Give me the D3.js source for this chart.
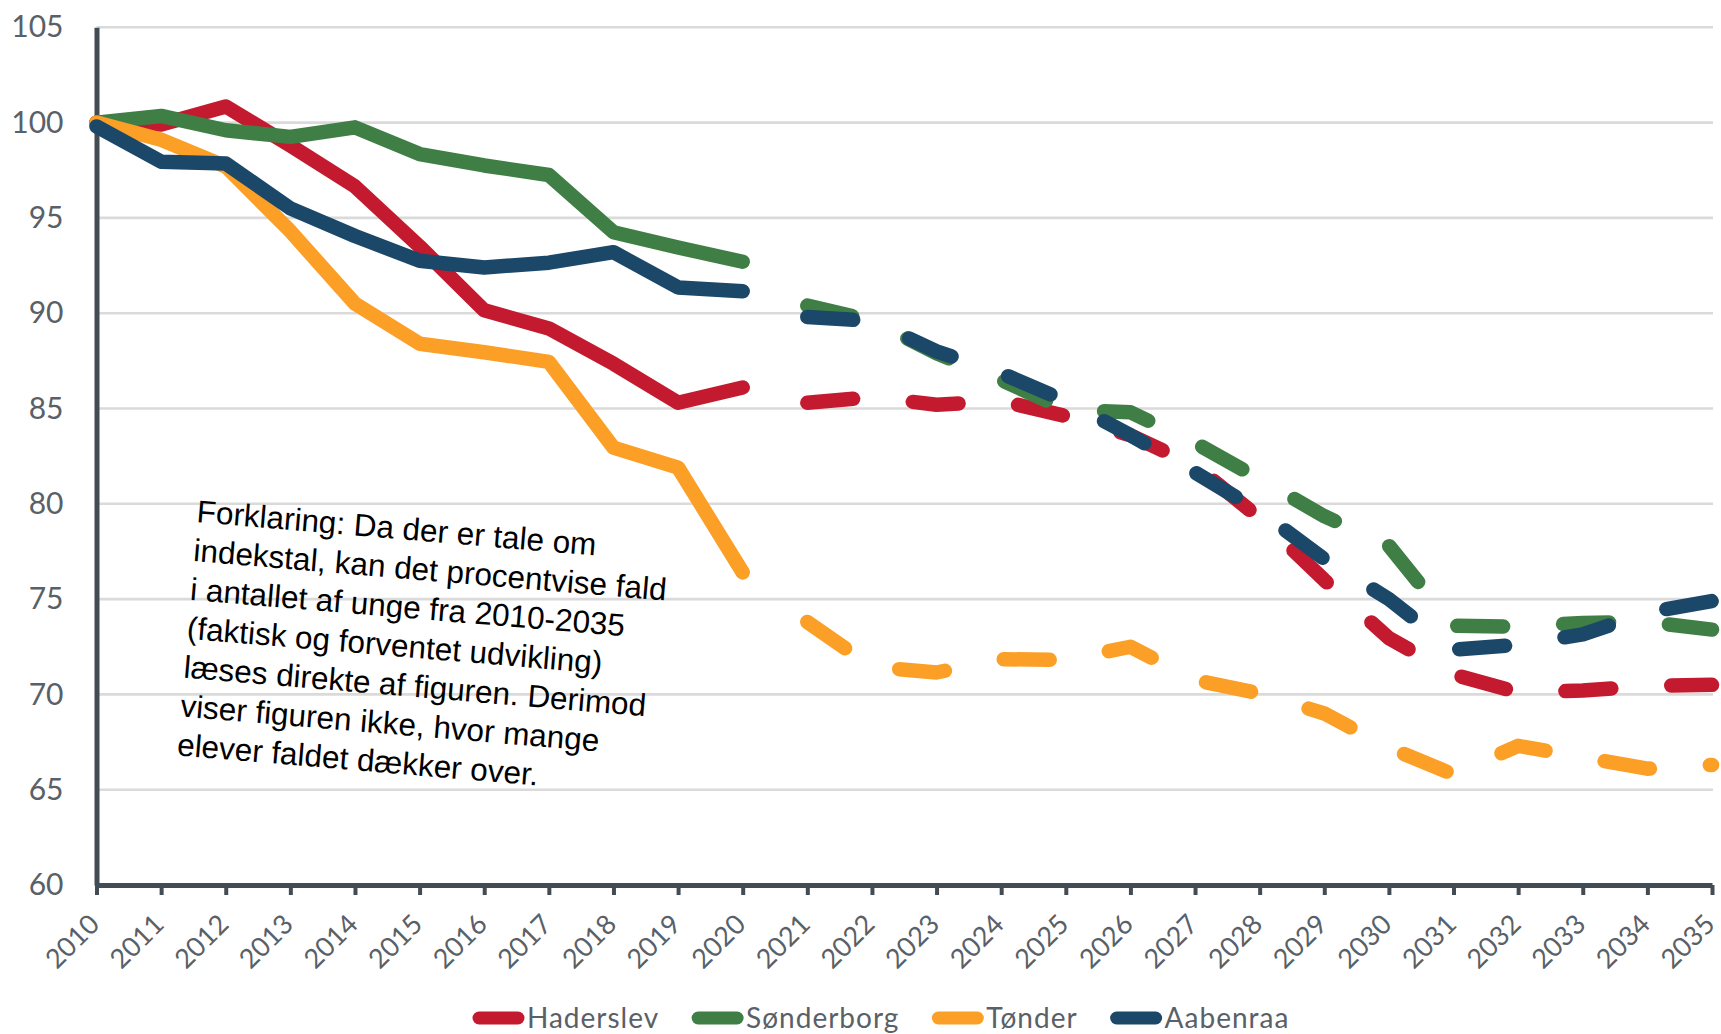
<!DOCTYPE html>
<html lang="da">
<head>
<meta charset="utf-8">
<title>Unge 2010-2035, indeks</title>
<script src="https://cdn.jsdelivr.net/npm/d3@7"></script>
<style>
  html, body { margin: 0; padding: 0; background: #ffffff; }
  svg { display: block; }
</style>
</head>
<body>
<svg id="chart" width="1721" height="1034"></svg>
<script>
// Index (2010 = 100): actual development 2010-2020, forecast 2021-2035
const actualYears   = [2010, 2011, 2012, 2013, 2014, 2015, 2016, 2017, 2018, 2019, 2020];
const forecastYears = [2021, 2022, 2023, 2024, 2025, 2026, 2027, 2028, 2029, 2030, 2031, 2032, 2033, 2034, 2035];
const tickYears     = [2010, 2011, 2012, 2013, 2014, 2015, 2016, 2017, 2018, 2019, 2020, 2021, 2022,
                       2023, 2024, 2025, 2026, 2027, 2028, 2029, 2030, 2031, 2032, 2033, 2034, 2035];
const yTicks = [60, 65, 70, 75, 80, 85, 90, 95, 100, 105];

const seriesNames = ["Haderslev", "Sønderborg", "Tønder", "Aabenraa"];

const haderslevActual   = [100, 99.9, 100.85, 98.8, 96.65, 93.5, 90.15, 89.2, 87.35, 85.3, 86.1];
const sonderborgActual  = [100, 100.35, 99.6, 99.25, 99.75, 98.35, 97.75, 97.25, 94.25, 93.45, 92.7];
const tonderActual      = [100, 99.1, 97.7, 94.3, 90.5, 88.4, 87.95, 87.45, 82.95, 81.9, 76.4];
const aabenraaActual    = [99.8, 97.95, 97.85, 95.5, 94.05, 92.75, 92.4, 92.65, 93.2, 91.35, 91.15];

const haderslevForecast  = [85.3, 85.6, 85.2, 85.4, 84.6, 83.6, 82.0, 79.25, 76.0, 72.95, 71.05, 70.1, 70.2, 70.45, 70.5];
const sonderborgForecast = [90.4, 89.6, 87.9, 86.5, 84.95, 84.8, 83.2, 81.3, 79.35, 77.8, 73.6, 73.55, 73.75, 73.8, 73.4];
const tonderForecast     = [73.8, 71.45, 71.15, 71.85, 71.8, 72.5, 70.75, 70.05, 69.0, 67.2, 65.8, 67.3, 66.7, 66.1, 66.3];
const aabenraaForecast   = [89.8, 89.6, 88.0, 86.85, 85.4, 83.6, 81.65, 79.6, 77.1, 75.0, 72.35, 72.6, 73.15, 74.3, 74.9];

const noteLines = [
  "Forklaring: Da der er tale om",
  "indekstal, kan det procentvise fald",
  "i antallet af unge fra 2010-2035",
  "(faktisk og forventet udvikling)",
  "læses direkte af figuren. Derimod",
  "viser figuren ikke, hvor mange",
  "elever faldet dækker over."
];

// Styling
const colors = ["#C41A2F", "#3F7F45", "#FB9F26", "#1B4769"];
const axisColor = "#434B53";
const labelColor = "#596067";
const gridColor = "#DADADA";
const labelFont = "Lato, 'Open Sans', sans-serif";

const actualSeries   = [haderslevActual, sonderborgActual, tonderActual, aabenraaActual];
const forecastSeries = [haderslevForecast, sonderborgForecast, tonderForecast, aabenraaForecast];

const svg = d3.select("#chart");

const x = d3.scaleLinear().domain([2010, 2035]).range([96.5, 1712]);
const y = d3.scaleLinear().domain([60, 105]).range([885, 27.3]);

// Horizontal gridlines
svg.append("g")
  .selectAll("line")
  .data(yTicks.filter(v => v > 60))
  .join("line")
  .attr("x1", x(2010)).attr("x2", x(2035) + 1)
  .attr("y1", d => y(d)).attr("y2", d => y(d))
  .attr("stroke", gridColor)
  .attr("stroke-width", 2.6);

// Y axis
const yAxis = svg.append("g")
  .attr("transform", `translate(${x(2010)},0)`)
  .call(d3.axisLeft(y).tickValues(yTicks).tickSize(0).tickSizeOuter(0).tickPadding(33));
yAxis.select(".domain").attr("stroke", axisColor).attr("stroke-width", 5);
yAxis.selectAll(".tick text")
  .attr("fill", labelColor)
  .style("font-family", labelFont)
  .style("font-weight", 400)
  .style("font-size", "30px");

// X axis
const xAxis = svg.append("g")
  .attr("transform", `translate(0,${y(60)})`)
  .call(d3.axisBottom(x).tickValues(tickYears).tickFormat(d3.format("d")).tickSize(10).tickSizeOuter(0));
xAxis.select(".domain").attr("stroke", axisColor).attr("stroke-width", 5);
xAxis.selectAll(".tick line").attr("stroke", axisColor).attr("stroke-width", 4);
xAxis.selectAll(".tick text")
  .attr("x", 0).attr("y", 0).attr("dy", 0)
  .attr("text-anchor", "end")
  .attr("transform", "translate(4,41) rotate(-45)")
  .attr("fill", labelColor)
  .style("font-family", labelFont)
  .style("font-weight", 400)
  .style("font-size", "27px");

// Series lines
const line = d3.line()
  .x(d => x(d.year))
  .y(d => y(d.value));

const linesG = svg.append("g");
seriesNames.forEach((name, i) => {
  const actual = actualYears.map((yr, k) => ({ year: yr, value: actualSeries[i][k] }));
  const forecast = forecastYears.map((yr, k) => ({ year: yr, value: forecastSeries[i][k] }));
  const g = linesG.append("g").attr("class", "series").attr("data-name", name);
  g.append("path")
    .datum(actual)
    .attr("d", line)
    .attr("fill", "none")
    .attr("stroke", colors[i])
    .attr("stroke-width", 14.5)
    .attr("stroke-linecap", "round")
    .attr("stroke-linejoin", "round");
  g.append("path")
    .datum(forecast)
    .attr("d", line)
    .attr("fill", "none")
    .attr("stroke", colors[i])
    .attr("stroke-width", 14.5)
    .attr("stroke-dasharray", "46,60")
    .attr("stroke-linecap", "round")
    .attr("stroke-linejoin", "round");
});

// Explanatory note
const note = svg.append("text")
  .attr("transform", "translate(196,522) rotate(4.8)")
  .style("font-family", "'Liberation Sans', Arial, sans-serif")
  .style("font-size", "31.5px")
  .attr("fill", "#000000");
note.selectAll("tspan")
  .data(noteLines)
  .join("tspan")
  .attr("x", 0)
  .attr("dy", (d, i) => i === 0 ? 0 : 39)
  .text(d => d);

// Legend
const legend = svg.append("g").attr("transform", "translate(0,1018)");
let lx = 472;
seriesNames.forEach((name, i) => {
  const item = legend.append("g");
  item.append("line")
    .attr("x1", lx + 7).attr("x2", lx + 46)
    .attr("y1", 0).attr("y2", 0)
    .attr("stroke", colors[i])
    .attr("stroke-width", 13)
    .attr("stroke-linecap", "round");
  const t = item.append("text")
    .attr("x", lx + 55)
    .attr("y", 10)
    .attr("fill", labelColor)
    .style("font-family", labelFont)
    .style("font-weight", 400)
    .style("font-size", "28px")
    .style("letter-spacing", "1px")
    .text(name);
  lx = lx + 55 + t.node().getComputedTextLength() + 32;
});
</script>
</body>
</html>
